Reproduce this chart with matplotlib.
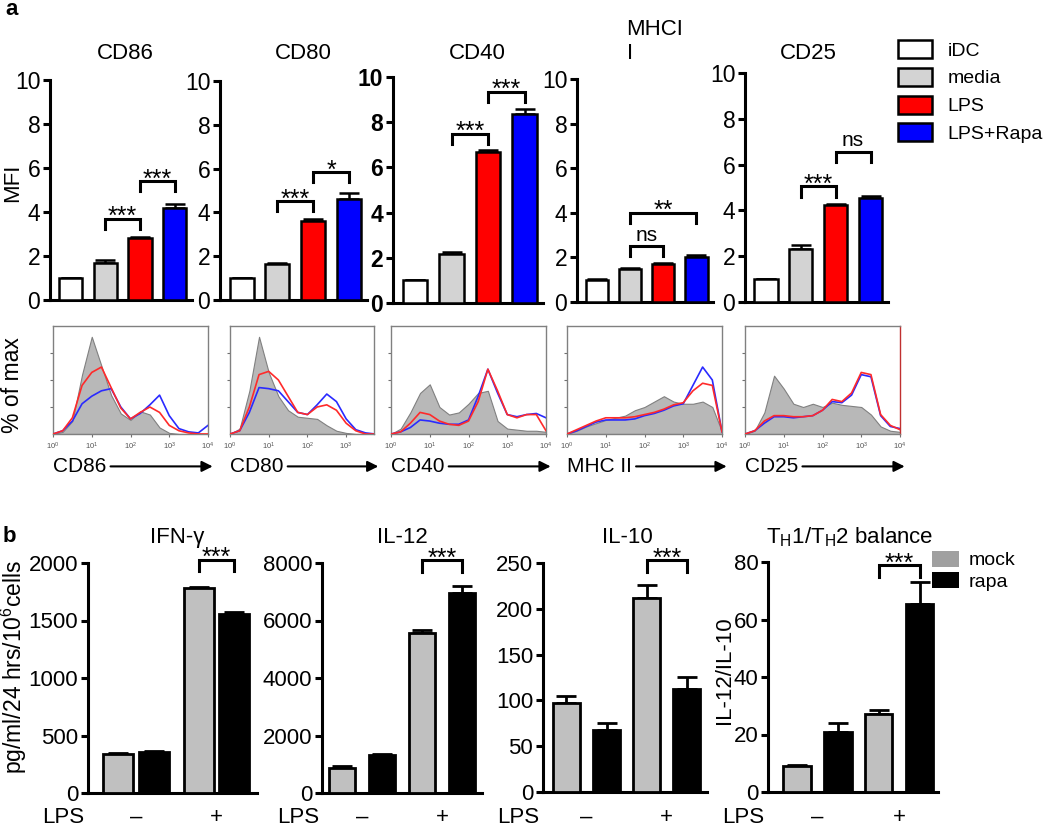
import numpy as np
import matplotlib
matplotlib.use("Agg")
import matplotlib.pyplot as plt
from matplotlib.patches import Patch

plt.rcParams['font.family'] = ['Liberation Sans', 'DejaVu Sans']
plt.rcParams['mathtext.fontset'] = 'custom'
plt.rcParams['mathtext.rm'] = 'Liberation Sans'
plt.rcParams['mathtext.it'] = 'Liberation Sans:italic'
plt.rcParams['mathtext.bf'] = 'Liberation Sans:bold'

W, H = 1050, 827

# ---------------- data: panel a (MFI bars) ----------------
markers = ["CD86", "CD80", "CD40", "MHCI\nI", "CD25"]
groups = ["iDC", "media", "LPS", "LPS+Rapa"]
mfi_cd86 = [1.0, 1.7, 2.8, 4.2]
mfi_cd80 = [1.0, 1.65, 3.6, 4.6]
mfi_cd40 = [1.0, 2.15, 6.7, 8.35]
mfi_mhc2 = [1.0, 1.5, 1.7, 2.0]
mfi_cd25 = [1.0, 2.3, 4.25, 4.55]
err_cd86 = [0.02, 0.12, 0.05, 0.17]
err_cd80 = [0.02, 0.06, 0.12, 0.27]
err_cd40 = [0.02, 0.1, 0.08, 0.25]
err_mhc2 = [0.02, 0.03, 0.04, 0.1]
err_cd25 = [0.02, 0.2, 0.05, 0.08]
# significance brackets: (bar i, bar j, height, label)
sig_cd86 = [(1, 2, 3.7, "***"), (2, 3, 5.4, "***")]
sig_cd80 = [(1, 2, 4.5, "***"), (2, 3, 5.85, "*")]
sig_cd40 = [(1, 2, 7.5, "***"), (2, 3, 9.35, "***")]
sig_mhc2 = [(1, 2, 2.5, "ns"), (1, 3, 4.0, "**")]
sig_cd25 = [(1, 2, 5.05, "***"), (2, 3, 6.55, "ns")]

# ---------------- data: panel a (histograms, % of max) ----------------
hist_names = ["CD86", "CD80", "CD40", "MHC II", "CD25"]
hist_logx = [0, 0.25, 0.5, 0.75, 1.0, 1.25, 1.5, 1.75, 2.0, 2.25, 2.5, 2.75,
             3.0, 3.25, 3.5, 3.75, 4.0]
h_cd86_media = [0, 2, 12, 55, 90, 63, 36, 19, 13, 21, 18, 6, 1, 0, 0, 0, 0]
h_cd86_lps = [0, 3, 15, 45, 57, 62, 43, 24, 14, 20, 25, 20, 8, 3, 1, 0, 0]
h_cd86_rapa = [0, 3, 12, 28, 35, 40, 42, 25, 14, 19, 27, 36, 17, 5, 2, 1, 8]
h_cd80_media = [0, 5, 40, 90, 57, 35, 22, 16, 15, 14, 8, 3, 1, 0, 0, 0, 0]
h_cd80_lps = [0, 3, 25, 55, 58, 50, 35, 20, 18, 25, 27, 22, 10, 3, 0, 0, 0]
h_cd80_rapa = [0, 3, 20, 43, 42, 40, 30, 20, 18, 27, 37, 30, 14, 4, 1, 0, 0]
h_cd40_media = [0, 5, 20, 38, 46, 25, 18, 20, 28, 38, 40, 12, 5, 4, 3, 3, 2]
h_cd40_lps = [0, 2, 10, 20, 18, 12, 9, 8, 12, 30, 60, 40, 18, 15, 18, 18, 3]
h_cd40_rapa = [0, 2, 6, 13, 12, 10, 9, 9, 13, 35, 60, 38, 18, 16, 18, 19, 15]
h_mhc2_media = [0, 3, 7, 10, 13, 15, 17, 22, 25, 30, 35, 30, 28, 28, 30, 25, 2]
h_mhc2_lps = [0, 4, 8, 12, 15, 15, 15, 16, 18, 20, 23, 27, 29, 40, 47, 45, 2]
h_mhc2_rapa = [0, 3, 7, 11, 13, 13, 13, 14, 17, 19, 22, 26, 28, 45, 62, 50, 2]
h_cd25_media = [0, 3, 20, 54, 42, 28, 25, 28, 25, 29, 27, 26, 25, 18, 7, 3, 2]
h_cd25_lps = [0, 3, 12, 17, 17, 16, 16, 17, 22, 32, 30, 38, 57, 55, 18, 8, 4]
h_cd25_rapa = [0, 3, 10, 16, 16, 15, 16, 17, 22, 30, 29, 36, 55, 53, 17, 7, 5]

# ---------------- data: panel b (cytokines) ----------------
cyto_titles = ["IFN-γ", "IL-12", "IL-10", "T$_\\mathrm{H}$1/T$_\\mathrm{H}$2 balance"]
ifng = [340, 355, 1780, 1560]
ifng_err = [10, 8, 10, 10]
il12 = [880, 1320, 5580, 6950]
il12_err = [50, 20, 100, 250]
il10 = [97, 68, 212, 112]
il10_err = [8, 7, 14, 14]
ratio = [9, 21, 27, 65.5]
ratio_err = [0.5, 3, 1.5, 7.5]
cyto_sig = [2030, 8090, 253, 78.8]
cyto_ticks = [[0, 500, 1000, 1500, 2000], [0, 2000, 4000, 6000, 8000],
              [0, 50, 100, 150, 200, 250], [0, 20, 40, 60, 80]]

bar_colors = ["white", "#d3d3d3", "#ff0000", "#0000ff"]
b_colors = ["#c0c0c0", "black", "#c0c0c0", "black"]


def px_axes(fig, x0, ytop, x1, ybot):
    return fig.add_axes([x0 / W, 1 - ybot / H, (x1 - x0) / W, (ybot - ytop) / H])


def style_bar_axes(ax, size, bold=False):
    for s in ["top", "right"]:
        ax.spines[s].set_visible(False)
    for s in ["left", "bottom"]:
        ax.spines[s].set_linewidth(2.2)
    ax.tick_params(axis="y", length=5, width=2.2, labelsize=size, pad=2)
    ax.tick_params(axis="x", length=0, labelbottom=False)
    if bold:
        for t in ax.get_yticklabels():
            t.set_fontweight("bold")


def bracket(ax, x1, x2, y, leg, label):
    ax.plot([x1, x1, x2, x2], [y - leg, y, y, y - leg], color="black", lw=2.2,
            clip_on=False, solid_joinstyle="miter")
    if label == "ns":
        ax.annotate(label, xy=((x1 + x2) / 2, y), xytext=(0, 4), textcoords="offset points",
                    ha="center", va="baseline", fontsize=15, annotation_clip=False)
    else:
        ax.annotate(label, xy=((x1 + x2) / 2, y), xytext=(0, -4), textcoords="offset points",
                    ha="center", va="baseline", fontsize=18, annotation_clip=False)


fig = plt.figure(figsize=(W / 100, H / 100), dpi=100)

# ---------- panel a bars ----------
a_boxes = [(50, 80, 192, 300), (220, 81, 367, 300), (393, 77, 543, 303),
           (577, 79, 713, 302), (745, 73, 888, 302)]
a_titles_x = [125, 303, 477, 655, 808]
mfi_all = [mfi_cd86, mfi_cd80, mfi_cd40, mfi_mhc2, mfi_cd25]
err_all = [err_cd86, err_cd80, err_cd40, err_mhc2, err_cd25]
sig_all = [sig_cd86, sig_cd80, sig_cd40, sig_mhc2, sig_cd25]
xa = np.arange(len(groups))
for k in range(5):
    ax = px_axes(fig, *a_boxes[k])
    ax.bar(xa, mfi_all[k], 0.67, color=bar_colors, edgecolor="black", linewidth=1.8, zorder=3)
    ax.errorbar(xa, mfi_all[k], yerr=[np.zeros(4), err_all[k]], fmt="none",
                ecolor="black", elinewidth=1.8, capsize=7, capthick=1.8, zorder=2)
    ax.set_xlim(-0.6, 3.5)
    ax.set_ylim(0, 10)
    ax.set_yticks([0, 2, 4, 6, 8, 10])
    style_bar_axes(ax, 16.5, bold=(k == 2))
    for (i, j, y, lab) in sig_all[k]:
        bracket(ax, i, j, y, 0.45, lab)
    fig.text(a_titles_x[k] / W, 1 - 59 / H, markers[k], ha="center", va="baseline",
             fontsize=16, multialignment="left")

fig.legend(handles=[Patch(facecolor=c, edgecolor="black", linewidth=1.8) for c in bar_colors],
           labels=groups, loc="upper left", bbox_to_anchor=(898 / W, 1 - 40 / H),
           frameon=False, fontsize=14, handlelength=1.75, handleheight=1.05,
           handletextpad=0.8, labelspacing=0.42, borderpad=0, borderaxespad=0)

fig.text(13 / W, 1 - 183 / H, "MFI", rotation=90, ha="center", va="center", fontsize=16)
fig.text(5 / W, 1 - 15 / H, "a", fontsize=16, fontweight="bold", va="baseline")

# ---------- panel a histograms ----------
h_boxes = [(53, 326, 208, 434), (230, 326, 374, 434), (391, 326, 546, 434),
           (567, 326, 722, 434), (745, 326, 900, 434)]
h_xmax = [4.0, 3.72, 4.0, 4.0, 4.0]
h_media = [h_cd86_media, h_cd80_media, h_cd40_media, h_mhc2_media, h_cd25_media]
h_lps = [h_cd86_lps, h_cd80_lps, h_cd40_lps, h_mhc2_lps, h_cd25_lps]
h_rapa = [h_cd86_rapa, h_cd80_rapa, h_cd40_rapa, h_mhc2_rapa, h_cd25_rapa]
xs = 10.0 ** np.array(hist_logx)
for k in range(5):
    ax = px_axes(fig, *h_boxes[k])
    ax.fill_between(xs, h_media[k], color="#b8b8b8", edgecolor="#808080", lw=0.8, zorder=1)
    ax.plot(xs, h_lps[k], color="#ff2a2a", lw=1.2, zorder=3)
    ax.plot(xs, h_rapa[k], color="#2a2aff", lw=1.2, zorder=2)
    ax.set_xscale("log")
    ax.set_xlim(1, 10 ** h_xmax[k])
    ax.set_ylim(0, 100)
    ticks = [10 ** d for d in range(5) if d <= h_xmax[k]]
    ax.set_xticks(ticks)
    ax.set_xticklabels(["$10^{%d}$" % d for d in range(len(ticks))])
    ax.xaxis.set_minor_locator(matplotlib.ticker.NullLocator())
    ax.set_yticks([25, 50, 75])
    ax.set_yticklabels([])
    ax.tick_params(axis="both", length=2.5, width=0.8, color="#707070",
                   labelsize=5.5, labelcolor="#555555", pad=2)
    for s in ax.spines.values():
        s.set_color("#808080")
        s.set_linewidth(1)
    if k == 4:
        ax.spines["right"].set_color("#c03030")
    ax.annotate(hist_names[k], xy=(1.03, -0.3), xycoords="axes fraction",
                xytext=(0, -0.3), textcoords="axes fraction", ha="left", va="center",
                fontsize=15, annotation_clip=False,
                arrowprops=dict(arrowstyle="-|>", color="black", lw=1.5,
                                mutation_scale=16, shrinkA=1, shrinkB=0))

fig.text(13 / W, 1 - 385 / H, "% of max", rotation=90, ha="center", va="center", fontsize=16.5)

# ---------- panel b ----------
b_boxes = [(88, 563, 257, 793), (322, 563, 482, 793), (543, 563, 707, 792),
           (768, 562, 938, 792)]
b_titles_x = [177, 402, 627, 850]
b_pos = [[0, 1, 2.26, 3.24], [0, 1, 2, 3], [0, 1, 2, 3], [0, 1, 2, 3]]
b_xlim = [(-0.84, 3.88), (-0.5, 3.5), (-0.58, 3.5), (-0.71, 3.45)]
b_width = [0.84, 0.67, 0.67, 0.67]
b_vals = [ifng, il12, il10, ratio]
b_errs = [ifng_err, il12_err, il10_err, ratio_err]
for k in range(4):
    box = b_boxes[k]
    ax = px_axes(fig, *box)
    xb = b_pos[k]
    ax.bar(xb, b_vals[k], b_width[k], color=b_colors, edgecolor="black", linewidth=2, zorder=3)
    ax.errorbar(xb, b_vals[k], yerr=[np.zeros(4), b_errs[k]], fmt="none",
                ecolor="black", elinewidth=2, capsize=7, capthick=2, zorder=2)
    ax.set_xlim(*b_xlim[k])
    yt = cyto_ticks[k]
    ax.set_ylim(0, yt[-1])
    ax.set_yticks(yt)
    style_bar_axes(ax, 16)
    leg = yt[-1] * 0.05
    bracket(ax, xb[2], xb[3], cyto_sig[k], leg, "***")
    fig.text(b_titles_x[k] / W, 1 - 543 / H, cyto_titles[k], ha="center", va="baseline",
             fontsize=16)
    # LPS row: baseline a little above the bottom edge
    yrow = -(823 - box[3]) / (box[3] - box[1])
    tr = matplotlib.transforms.blended_transform_factory(ax.transData, ax.transAxes)
    ax.text((xb[0] + xb[1]) / 2, yrow, "–", transform=tr, ha="center", va="baseline", fontsize=16)
    ax.text((xb[2] + xb[3]) / 2, yrow, "+", transform=tr, ha="center", va="baseline", fontsize=16)
    ax.text(-0.02, yrow, "LPS", transform=ax.transAxes, ha="right", va="baseline", fontsize=16)

fig.text(14 / W, 1 - 667 / H, "pg/ml/24 hrs/10$^6$cells", rotation=90, ha="center",
         va="center", fontsize=16.5)
fig.text(725 / W, 1 - 670 / H, "IL-12/IL-10", rotation=90, ha="center", va="center", fontsize=16)
fig.text(3 / W, 1 - 542 / H, "b", fontsize=16, fontweight="bold", va="baseline")

fig.legend(handles=[Patch(facecolor="#a0a0a0"), Patch(facecolor="black")],
           labels=["mock", "rapa"], loc="upper left", bbox_to_anchor=(932 / W, 1 - 551 / H),
           frameon=False, fontsize=14, handlelength=1.4, handleheight=0.85,
           handletextpad=0.5, labelspacing=0.15, borderpad=0, borderaxespad=0)

fig.savefig("out.png", dpi=100, facecolor="white")
